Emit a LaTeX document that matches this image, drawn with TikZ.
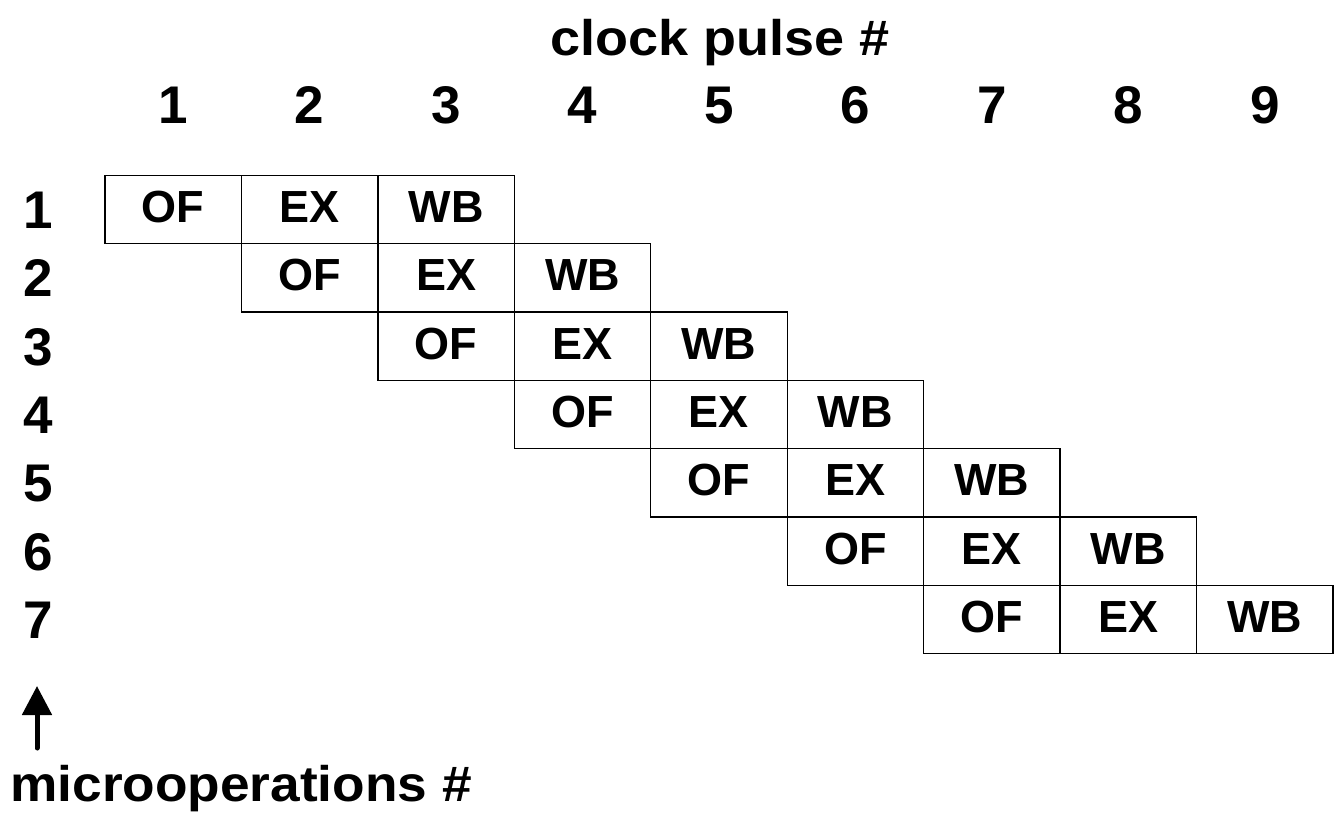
\documentclass[tikz,border=0pt]{standalone}
\usepackage{fontspec}
\usepackage{graphicx}
\setmainfont{Liberation Sans}
\usetikzlibrary{arrows.meta}

% grid geometry (in drawing units)
\newcommand{\gx}{105}
\newcommand{\gy}{175.5}
\newcommand{\cw}{136.44}
\newcommand{\ch}{68.3}

\begin{document}
\begin{tikzpicture}[x=0.75pt,y=-0.75pt,
  stage/.style={draw, line width=1pt, inner sep=0pt,
    minimum width=102.33pt, minimum height=51.2pt,
    text height=19.5pt, text depth=0pt,
    font=\fontsize{33.75}{40}\selectfont\bfseries},
  num/.style={inner sep=0pt, text height=28.5pt, text depth=0pt,
    font=\fontsize{39.75}{46}\selectfont\bfseries},
  heading/.style={inner sep=0pt, font=\fontsize{37.5}{44}\selectfont\bfseries}]

\useasboundingbox (0,0) rectangle (1338,813);

% axis title for clock pulses
\node[heading, anchor=base] (clocktitle) at (720,56)
  {\scalebox{1.08}[1]{clock pulse \#}};

% clock pulse numbers
\foreach \c [count=\n] in {0,...,8}
  \node[num] (col\n) at ({\gx+\cw*(\c+0.5)},105) {\n};

% microoperation numbers and their pipeline stages
\foreach \r [count=\n] in {0,...,6} {
  \node[num] (row\n) at (38,{\gy+\ch*(\r+0.5)}) {\n};
  \node[stage] (of\n) at ({\gx+\cw*(\r+0.5)},{\gy+\ch*(\r+0.5)}) {OF};
  \node[stage] (ex\n) at ({\gx+\cw*(\r+1.5)},{\gy+\ch*(\r+0.5)}) {EX};
  \node[stage] (wb\n) at ({\gx+\cw*(\r+2.5)},{\gy+\ch*(\r+0.5)}) {WB};
}

% axis title for microoperations, with its arrow
\node[heading, anchor=base west] (microtitle) at (10,801)
  {\scalebox{1.065}[1]{microoperations \#}};
\coordinate (mtail) at (37,748);
\coordinate (mtip) at (37,686);
\draw[line width=3.75pt, line cap=round,
  -{Triangle[length=21.75pt,width=21.75pt]}] (mtail) -- (mtip);

\end{tikzpicture}
\end{document}
